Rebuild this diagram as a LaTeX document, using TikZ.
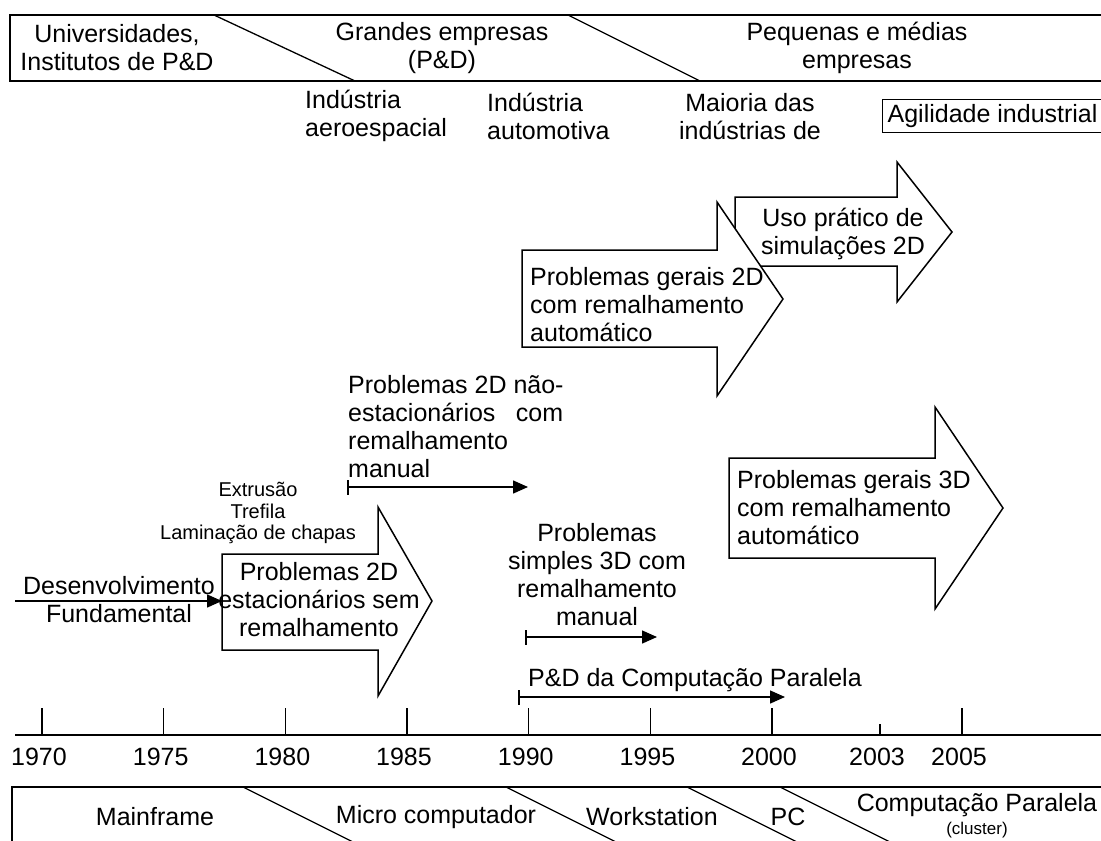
\documentclass[tikz,border=0pt]{standalone}
\usepackage{fontspec}
\setmainfont{Liberation Sans}
\usetikzlibrary{arrows.meta}
\begin{document}
\begin{tikzpicture}[x=1pt,y=-1pt,
  every node/.style={font=\fontsize{25}{28}\selectfont, inner sep=0pt},
  lbl/.style={align=center},
  lleft/.style={align=left, anchor=west},
  smalltxt/.style={font=\fontsize{20}{21.5}\selectfont, align=center},
  tinytxt/.style={font=\fontsize{17}{19}\selectfont},
  blockarrow/.style={draw, fill=white, line width=1.5pt, line join=miter},
  plain/.style={line width=1.3pt},
  span/.style={line width=1.5pt, {Bar[width=15pt,line width=1.5pt]}-{Triangle[length=15pt,width=13pt]}},
  lead/.style={line width=1.5pt, -{Triangle[length=15pt,width=13pt]}},
  tick/.style={line width=1.3pt},
]
\useasboundingbox (0,0) rectangle (1101,841);
\clip (0,0) rectangle (1101,841);

% ---- top band: who develops the technology
\draw[plain] (1110,15) -- (10,15) -- (10,81) -- (1110,81);
\draw[plain] (214,15) -- (355,81);
\draw[plain] (568,15) -- (700,81);
\node[lbl] (uni) at (117,48) {Universidades,\\Institutos de P\&D};
\node[lbl] (gde) at (442,48) {Grandes empresas\\(P\&D)};
\node[lbl] (peq) at (857,48) {Pequenas e médias\\empresas};

% ---- industries
\node[lleft] (aero) at (305,116) {Indústria\\aeroespacial};
\node[lleft] (auto) at (487,116) {Indústria\\automotiva};
\node[lbl] (maioria) at (750,117) {Maioria das\\indústrias de};
\node[draw, line width=1.3pt, anchor=west, inner xsep=5pt, minimum height=33pt] (agil) at (882,116) {Agilidade industrial};

% ---- block arrows (drawn back to front)
\draw[blockarrow] (735,197) -- (897,197) -- (897,162) -- (952,232) -- (897,302) -- (897,266) -- (735,266) -- cycle;
\node[lbl] (uso) at (843,234) {Uso prático de\\simulações 2D};

\draw[blockarrow] (522,250) -- (717,250) -- (717,202) -- (783,299) -- (717,396) -- (717,347) -- (522,347) -- cycle;
\node[lleft] (g2d) at (530,305) {Problemas gerais 2D\\com remalhamento\\automático};

\draw[blockarrow] (729,458) -- (935,458) -- (935,407) -- (1003,508) -- (935,609) -- (935,558) -- (729,558) -- cycle;
\node[lleft] (g3d) at (737,508) {Problemas gerais 3D\\com remalhamento\\automático};

\draw[blockarrow] (222,554) -- (378,554) -- (378,507) -- (432,601) -- (378,696) -- (378,650) -- (222,650) -- cycle;
\coordinate (estin) at (222,601);
\node[lbl] (est) at (319,600) {Problemas 2D\\estacionários sem\\remalhamento};

% ---- processes
\node[smalltxt] (proc) at (258,513) {Extrusão\\Trefila\\Laminação de chapas};

% ---- fundamental development
\coordinate (dstart) at (15,601);
\node[lbl] (dev) at (119,600) {Desenvolvimento\\Fundamental};
\draw[lead] (dstart) -- (estin);

% ---- non-stationary 2D problems
\node[lleft] (nonest) at (348,427) {Problemas 2D não-\\\makebox[215pt][l]{estacionários\hfill com}\\remalhamento\\manual};
\coordinate (ne0) at (347,487);
\coordinate (ne1) at (528,487);
\draw[span] (ne0) -- (ne1);

% ---- simple 3D problems
\node[lbl] (s3d) at (597,575) {Problemas\\simples 3D com\\remalhamento\\manual};
\coordinate (s0) at (525,637);
\coordinate (s1) at (657,637);
\draw[span] (s0) -- (s1);

% ---- parallel computing R&D
\node[anchor=west] (pdcp) at (528,680) {P\&D da Computação Paralela};
\coordinate (p0) at (518,697);
\coordinate (p1) at (785,697);
\draw[span] (p0) -- (p1);

% ---- time axis
\draw[line width=2pt] (15,735) -- (1110,735);
\foreach \x/\yr in {42/1970, 163.7/1975, 285.4/1980, 407/1985, 528.8/1990, 650.5/1995, 772/2000, 962/2005}{
  \draw[tick] (\x,708) -- (\x,735);
  \node (y\yr) at (\x-3,757) {\yr};
}
\draw[tick] (880,724) -- (880,735);
\node (y2003) at (877,757) {2003};

% ---- bottom band: computing platforms
\draw[plain] (1110,787) -- (12,787) -- (12,850);
\draw[plain] (243,787) -- (369,850);
\draw[plain] (506,787) -- (632,850);
\draw[plain] (687,787) -- (813,850);
\draw[plain] (780,787) -- (906,850);
\node (mf) at (155,817) {Mainframe};
\node (micro) at (436,817) {Micro computador};
\node (ws) at (652,817) {Workstation};
\node (pc) at (788,817) {PC};
\node (par) at (977,805) {Computação Paralela};
\node[tinytxt] (clu) at (977,830) {(cluster)};
\end{tikzpicture}
\end{document}
